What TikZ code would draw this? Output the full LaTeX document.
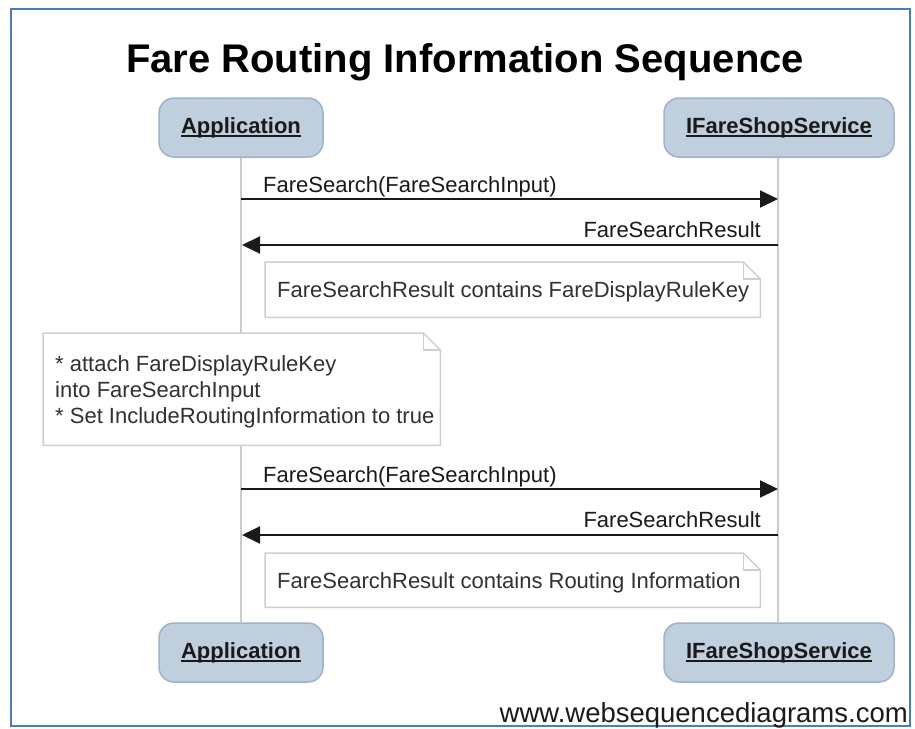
\documentclass[tikz,border=0pt]{standalone}
\usepackage{fontspec}
\setmainfont{Liberation Sans}
\usetikzlibrary{arrows.meta}
\definecolor{frameblue}{HTML}{4A7EBB}
\definecolor{boxfill}{HTML}{BFCFDD}
\definecolor{boxedge}{HTML}{9DB2D1}
\definecolor{lifegray}{HTML}{CCCCCC}
\definecolor{notegray}{HTML}{CFCFCF}
\definecolor{ink}{HTML}{1A1A1A}
\newsavebox\ulbox
\newcommand\ulbold[1]{\sbox\ulbox{\bfseries #1}\usebox\ulbox\llap{\rule[-3.5pt]{\wd\ulbox}{1.5pt}}}
\tikzset{
  actor/.style={draw=boxedge,fill=boxfill,line width=1.5pt,rounded corners=15pt,
    minimum height=59pt,inner sep=0pt,text=ink,font=\fontsize{22}{26}\selectfont},
  lifeline/.style={draw=lifegray,line width=1.5pt},
  msg/.style={draw=ink,line width=2pt,-{Triangle[length=18pt,width=17pt]}},
  msglabel/.style={inner sep=0pt,text=ink,font=\fontsize{22}{26}\selectfont},
  notebg/.style={fill=white,draw=none,inner sep=0pt},
  noteedge/.style={draw=notegray,line width=1.5pt,line join=miter},
  notetext/.style={inner sep=0pt,text=ink!90,align=left,font=\fontsize{22}{26}\selectfont},
}
\begin{document}
\begin{tikzpicture}[x=1pt,y=-1pt]
\useasboundingbox (0,0) rectangle (915,728);
\fill[white] (0,0) rectangle (915,728);
\draw[frameblue,line width=2pt] (11,9) rectangle (910,726);

\node[anchor=base,inner sep=0pt,text=black,font=\bfseries\fontsize{40}{48}\selectfont] (title) at (465,72) {Fare Routing Information Sequence};

% actors
\node[actor,minimum width=164pt] (appT) at (241,127.5) {\ulbold{Application}};
\node[actor,minimum width=230pt] (srvT) at (779,127.5) {\ulbold{IFareShopService}};
\node[actor,minimum width=164pt] (appB) at (241,652.5) {\ulbold{Application}};
\node[actor,minimum width=230pt] (srvB) at (779,652.5) {\ulbold{IFareShopService}};

% lifelines
\draw[lifeline] (appT.south) -- (appB.north);
\draw[lifeline] ([xshift=-1pt]srvT.south) -- ([xshift=-1pt]srvB.north);

% message end points
\coordinate (m1a) at (241,199);  \coordinate (m1s) at (778,199);
\coordinate (m2s) at (778,245);  \coordinate (m2a) at (242,245);
\coordinate (m3a) at (241,489);  \coordinate (m3s) at (778,489);
\coordinate (m4s) at (778,535);  \coordinate (m4a) at (242,535);

% messages
\draw[msg] (m1a) -- (m1s);
\node[msglabel,anchor=base west] (l1) at (263,192) {FareSearch(FareSearchInput)};
\draw[msg] (m2s) -- (m2a);
\node[msglabel,anchor=base east] (l2) at (761,237) {FareSearchResult};
\draw[msg] (m3a) -- (m3s);
\node[msglabel,anchor=base west] (l3) at (263,482) {FareSearch(FareSearchInput)};
\draw[msg] (m4s) -- (m4a);
\node[msglabel,anchor=base east] (l4) at (761,527) {FareSearchResult};

% note 1
\node[notebg,anchor=north west,minimum width=495pt,minimum height=55pt] (n1) at (265,262) {};
\draw[noteedge] (n1.north west) -- ([xshift=-17pt]n1.north east) -- ([yshift=-17pt]n1.north east) -- (n1.south east) -- (n1.south west) -- cycle;
\draw[noteedge] ([xshift=-17pt]n1.north east) -- ([xshift=-17pt,yshift=-17pt]n1.north east) -- ([yshift=-17pt]n1.north east);
\node[notetext,anchor=base west] (t1) at (277,297) {FareSearchResult contains FareDisplayRuleKey};

% note 2
\node[notebg,anchor=north west,minimum width=397pt,minimum height=112pt] (n2) at (43,333) {};
\draw[noteedge] (n2.north west) -- ([xshift=-17pt]n2.north east) -- ([yshift=-17pt]n2.north east) -- (n2.south east) -- (n2.south west) -- cycle;
\draw[noteedge] ([xshift=-17pt]n2.north east) -- ([xshift=-17pt,yshift=-17pt]n2.north east) -- ([yshift=-17pt]n2.north east);
\node[notetext,anchor=west] (t2) at (55,392) {* attach FareDisplayRuleKey\\into FareSearchInput\\* Set IncludeRoutingInformation to true};

% note 3
\node[notebg,anchor=north west,minimum width=495pt,minimum height=54pt] (n3) at (265,553) {};
\draw[noteedge] (n3.north west) -- ([xshift=-17pt]n3.north east) -- ([yshift=-17pt]n3.north east) -- (n3.south east) -- (n3.south west) -- cycle;
\draw[noteedge] ([xshift=-17pt]n3.north east) -- ([xshift=-17pt,yshift=-17pt]n3.north east) -- ([yshift=-17pt]n3.north east);
\node[notetext,anchor=base west] (t3) at (277,588) {FareSearchResult contains Routing Information};

% watermark
\node[anchor=base east,inner sep=0pt,text=ink,font=\fontsize{27.5}{32}\selectfont] (web) at (908,722) {www.websequencediagrams.com};
\end{tikzpicture}
\end{document}
